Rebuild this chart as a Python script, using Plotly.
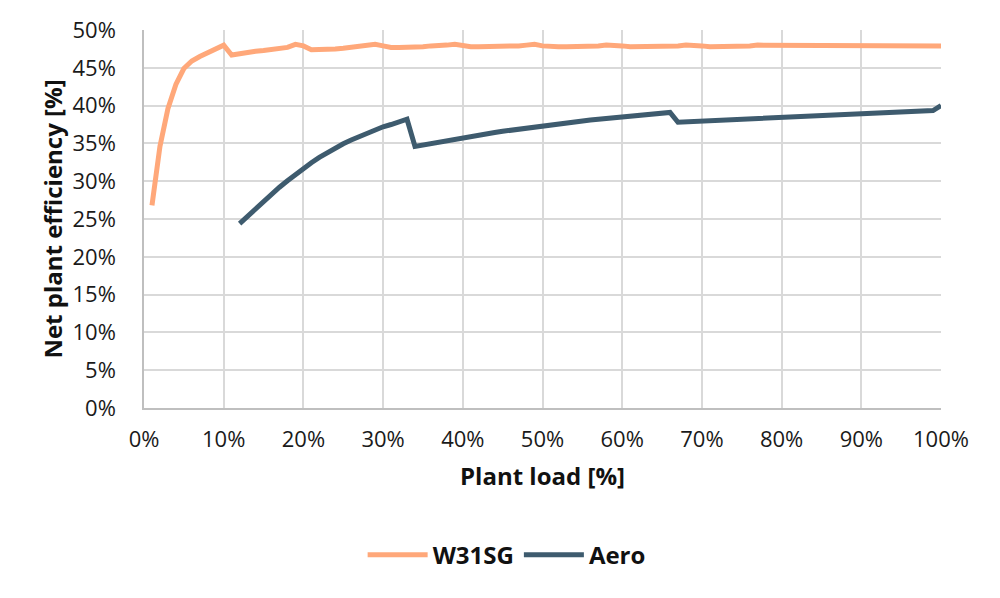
import plotly.graph_objects as go

load_w31 = list(range(1, 101))
eff_w31 = [26.8, 34.6, 39.6, 42.8, 44.9, 45.9, 46.5, 47.0, 47.5, 48.0,
           46.7, 46.9, 47.1, 47.2, 47.3, 47.4, 47.5, 47.7, 48.1, 47.9,
           47.4, 47.4, 47.5, 47.5, 47.6, 47.7, 47.8, 47.9, 48.1, 47.9,
           47.7, 47.7, 47.7, 47.8, 47.8, 47.9, 47.9, 48.0, 48.1, 47.9,
           47.8, 47.8, 47.8, 47.8, 47.9, 47.9, 47.9, 48.0, 48.1, 47.9,
           47.8, 47.8, 47.8, 47.8, 47.9, 47.9, 47.9, 48.0, 48.0, 47.9,
           47.8, 47.8, 47.8, 47.9, 47.9, 47.9, 47.9, 48.0, 48.0, 47.9,
           47.8, 47.8, 47.9, 47.9, 47.9, 47.9, 48.0, 48.0, 48.0, 47.9,
           47.9, 47.9, 47.9, 47.9, 47.9, 47.9, 48.0, 48.0, 48.0, 47.9,
           47.9, 47.9, 47.9, 47.9, 47.9, 47.9, 48.0, 48.0, 48.0, 47.9]

load_aero = list(range(12, 101))
eff_aero = [24.4, 25.4, 26.4, 27.35, 28.3, 29.2, 30.05, 30.9, 31.7,
            32.45, 33.15, 33.8, 34.4, 34.95, 35.45, 35.9, 36.35, 36.8, 37.2,
            37.5, 37.8, 38.2, 34.6, 34.8, 35.0, 35.2, 35.4, 35.6, 35.8,
            35.95, 36.1, 36.3, 36.45, 36.6, 36.75, 36.9, 37.05, 37.2, 37.35,
            37.5, 37.65, 37.8, 37.9, 38.0, 38.1, 38.2, 38.3, 38.4, 38.5,
            38.6, 38.7, 38.8, 38.9, 39.0, 39.1, 37.8, 37.85, 37.9, 37.95,
            38.0, 38.05, 38.1, 38.15, 38.2, 38.25, 38.3, 38.35, 38.45, 38.55,
            38.6, 38.65, 38.7, 38.75, 38.8, 38.85, 38.9, 38.95, 39.0, 39.05,
            39.1, 39.15, 39.2, 39.2, 39.25, 39.3, 39.3, 39.35, 39.35, 40.0]

fig = go.Figure()
fig.add_trace(go.Scatter(x=[v / 100 for v in load_w31], y=[v / 100 for v in eff_w31],
                         mode="lines", name="W31SG",
                         line=dict(color="#FFA87A", width=5)))
fig.add_trace(go.Scatter(x=[v / 100 for v in load_aero], y=[v / 100 for v in eff_aero],
                         mode="lines", name="Aero",
                         line=dict(color="#3E5B6E", width=5)))

fig.update_layout(
    width=1000, height=598,
    margin=dict(l=144, r=59, t=30, b=190),
    paper_bgcolor="white", plot_bgcolor="white",
    font=dict(family="Open Sans", color="#1a1a1a", size=22),
    showlegend=True,
    legend=dict(orientation="h", x=0.455, xanchor="center", y=-0.33, yanchor="top",
                font=dict(size=24, family="Open Sans", weight="bold", color="#111111"),
                itemwidth=60),
    xaxis=dict(range=[0, 1], tick0=0, dtick=0.1, tickformat=".0%",
               showgrid=True, gridcolor="#D9D9D9", gridwidth=1.5,
               showline=True, linecolor="#BFBFBF", linewidth=1.5,
               zeroline=False, ticks="", ticklabelstandoff=11,
               title=dict(text="Plant load [%]", standoff=16,
                          font=dict(size=24, weight="bold", color="#111111"))),
    yaxis=dict(range=[0, 0.5], tick0=0, dtick=0.05, tickformat=".0%",
               showgrid=True, gridcolor="#D9D9D9", gridwidth=1.5,
               showline=True, linecolor="#BFBFBF", linewidth=1.5,
               zeroline=False, ticks="", ticklabelstandoff=22,
               title=dict(text="Net plant efficiency [%]", standoff=3,
                          font=dict(size=24, weight="bold", color="#111111"))),
)

fig.write_html("out.html")
